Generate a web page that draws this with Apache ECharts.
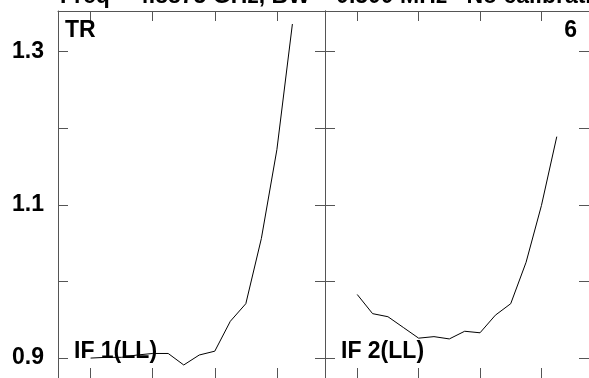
<!DOCTYPE html>
<html>
<head>
<meta charset="utf-8">
<script src="https://cdn.jsdelivr.net/npm/echarts@6/dist/echarts.min.js"></script>
<style>
html,body{margin:0;padding:0;background:#fff;}
#chart{width:589px;height:378px;}
</style>
</head>
<body>
<div id="chart"></div>
<script>
// ---- data ----
const channels = [1, 2, 3, 4, 5, 6, 7, 8, 9, 10, 11, 12, 13, 14];
const if1LL = [0.900, 0.901, 0.901, 0.904, 0.906, 0.906, 0.891, 0.904, 0.909, 0.948, 0.971, 1.056, 1.172, 1.336];
const if2LL = [0.983, 0.958, 0.954, 0.940, 0.926, 0.928, 0.925, 0.935, 0.933, 0.956, 0.971, 1.025, 1.099, 1.189];
const xTickValues = [1, 5, 9, 13];
const yTickValues = [0.9, 1.0, 1.1, 1.2, 1.3];
const yLabelValues = [0.9, 1.1, 1.3];
const panelLabels = ['IF 1(LL)', 'IF 2(LL)'];
const cornerLeft = 'TR';
const cornerRight = '6';
const titleText = 'Freq = 4.8875 GHz, BW = 0.500 MHz   No calibration applied';

// ---- styling ----
const FONT = '"Liberation Sans", Arial, sans-serif';
const AXIS_COLOR = '#555';
const xRange = [-1.1, 16.1];
const yRange = [0.874, 1.353];

function xAxisDef(grid, pos) {
  return {
    type: 'value', gridIndex: grid, position: pos, min: xRange[0], max: xRange[1],
    axisLine: { show: true, onZero: false, lineStyle: { color: AXIS_COLOR, width: 1 } },
    axisTick: { show: true, inside: true, length: 10, customValues: xTickValues, lineStyle: { color: AXIS_COLOR } },
    axisLabel: { show: false },
    splitLine: { show: false }
  };
}
function yAxisDef(grid, pos, labels) {
  return {
    type: 'value', gridIndex: grid, position: pos, min: yRange[0], max: yRange[1],
    axisLine: { show: true, onZero: false, lineStyle: { color: AXIS_COLOR, width: 1 } },
    axisTick: { show: true, inside: true, length: 10, customValues: yTickValues, lineStyle: { color: AXIS_COLOR } },
    axisLabel: labels ? {
      show: true, customValues: yLabelValues, margin: 14,
      fontSize: 23, fontWeight: 'bold', color: '#000', fontFamily: FONT,
      formatter: v => v.toFixed(1)
    } : { show: false },
    splitLine: { show: false }
  };
}

const chart = echarts.init(document.getElementById('chart'), null, { renderer: 'canvas' });
chart.setOption({
  animation: false,
  backgroundColor: '#fff',
  grid: [
    { left: 58, width: 267, top: 11, bottom: -2 },
    { left: 325, width: 267, top: 11, bottom: -2 }
  ],
  xAxis: [xAxisDef(0, 'bottom'), xAxisDef(0, 'top'), xAxisDef(1, 'bottom'), xAxisDef(1, 'top')],
  yAxis: [yAxisDef(0, 'left', true), yAxisDef(0, 'right', false), yAxisDef(1, 'left', false), yAxisDef(1, 'right', false)],
  series: [
    {
      type: 'line', xAxisIndex: 0, yAxisIndex: 0, showSymbol: false, silent: true,
      lineStyle: { color: '#000', width: 1 },
      data: channels.map((c, i) => [c, if1LL[i]])
    },
    {
      type: 'line', xAxisIndex: 2, yAxisIndex: 2, showSymbol: false, silent: true,
      lineStyle: { color: '#000', width: 1 },
      data: channels.map((c, i) => [c, if2LL[i]])
    }
  ],
  graphic: [
    { type: 'text', left: 60, top: -15, z: 10, style: { text: titleText, font: 'bold 23px ' + FONT, fill: '#000' } },
    { type: 'text', left: 65, top: 19, z: 10, style: { text: cornerLeft, font: 'bold 23px ' + FONT, fill: '#000' } },
    { type: 'text', right: 12, top: 19, z: 10, style: { text: cornerRight, font: 'bold 23px ' + FONT, fill: '#000' } },
    { type: 'text', left: 74, top: 340, z: 10, style: { text: panelLabels[0], font: 'bold 23px ' + FONT, fill: '#000' } },
    { type: 'text', left: 341, top: 340, z: 10, style: { text: panelLabels[1], font: 'bold 23px ' + FONT, fill: '#000' } }
  ]
});
</script>
</body>
</html>
